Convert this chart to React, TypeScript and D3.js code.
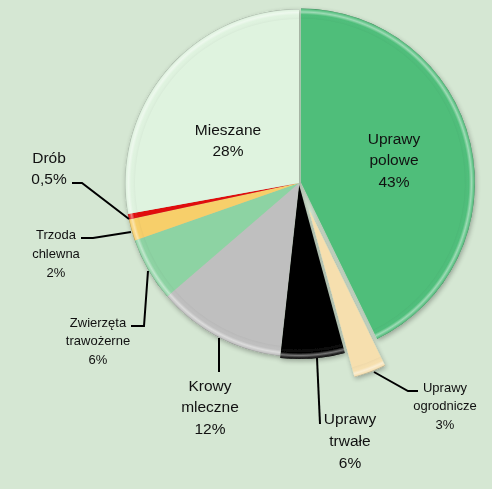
import React from 'react';
import { arc, pie, PieArcDatum } from 'd3';

const W = 492;
const H = 489;

const categories = [
    'Uprawy polowe',
    'Uprawy ogrodnicze',
    'Uprawy trwałe',
    'Krowy mleczne',
    'Zwierzęta trawożerne',
    'Trzoda chlewna',
    'Drób',
    'Mieszane',
];
const values = [43, 3, 6, 12, 6, 2, 0.5, 28];
const percentLabels = ['43%', '3%', '6%', '12%', '6%', '2%', '0,5%', '28%'];
const colors = ['#4fbe7a', '#f6dfae', '#050505', '#bfbfbf', '#8dd3a3', '#f7cf6a', '#e01010', '#dff3df'];

// how far each slice is pulled out of the pie (px)
const explode: Record<string, number> = {
    'Uprawy polowe': 2,
    'Uprawy ogrodnicze': 28,
    'Uprawy trwałe': 2,
};

type Lbl = { key: string; lines: string[]; x: number; y: number; size: number; lh: number };
const labels: Lbl[] = [
    { key: 'Mieszane', lines: ['Mieszane', '28%'], x: 228, y: 129, size: 15.5, lh: 21 },
    { key: 'Uprawy polowe', lines: ['Uprawy', 'polowe', '43%'], x: 394, y: 138, size: 15.5, lh: 21.5 },
    { key: 'Drób', lines: ['Drób', '0,5%'], x: 49, y: 157, size: 15.5, lh: 21 },
    { key: 'Trzoda chlewna', lines: ['Trzoda', 'chlewna', '2%'], x: 56, y: 234, size: 13, lh: 19 },
    { key: 'Zwierzęta trawożerne', lines: ['Zwierzęta', 'trawożerne', '6%'], x: 98, y: 322, size: 13, lh: 18.5 },
    { key: 'Krowy mleczne', lines: ['Krowy', 'mleczne', '12%'], x: 210, y: 385, size: 15.5, lh: 21.5 },
    { key: 'Uprawy trwałe', lines: ['Uprawy', 'trwałe', '6%'], x: 350, y: 418, size: 15.5, lh: 22 },
    { key: 'Uprawy ogrodnicze', lines: ['Uprawy', 'ogrodnicze', '3%'], x: 445, y: 387, size: 13, lh: 18.5 },
];

const leaders: [number, number][][] = [
    [[72, 183], [82, 183], [129, 219]],
    [[81, 238], [93, 238], [131, 232]],
    [[131, 326], [144, 326], [148, 271]],
    [[219, 338], [219, 372]],
    [[317, 358], [320, 424]],
    [[374, 372], [408, 391], [418, 391]],
];

const cx = 299;
const cy = 183;
const R = 174;

type Slice = { name: string; value: number; pct: string; color: string };
const data: Slice[] = categories.map((name, i) => ({
    name,
    value: values[i],
    pct: percentLabels[i],
    color: colors[i],
}));

export default function App() {
    const arcs = pie<Slice>().sort(null).value((d) => d.value)(data);
    const outer = arc<PieArcDatum<Slice>>().innerRadius(0).outerRadius(R);
    const band = arc<PieArcDatum<Slice>>().innerRadius(R - 10).outerRadius(R);

    return (
        <svg width={W} height={H} style={{ display: 'block', position: 'absolute', left: 0, top: 0 }}>
            <defs>
                <filter id="shadow" x="-20%" y="-20%" width="140%" height="140%">
                    <feGaussianBlur in="SourceAlpha" stdDeviation="2.5" />
                    <feOffset dx="1" dy="1.5" result="b" />
                    <feComponentTransfer>
                        <feFuncA type="linear" slope="0.3" />
                    </feComponentTransfer>
                    <feMerge>
                        <feMergeNode />
                        <feMergeNode in="SourceGraphic" />
                    </feMerge>
                </filter>
                <radialGradient id="rim" cx="0" cy="0" r={R} gradientUnits="userSpaceOnUse">
                    <stop offset="0.94" stopColor="#000000" stopOpacity="0.04" />
                    <stop offset="0.965" stopColor="#ffffff" stopOpacity="0" />
                    <stop offset="0.98" stopColor="#ffffff" stopOpacity="0.45" />
                    <stop offset="0.993" stopColor="#ffffff" stopOpacity="0.1" />
                    <stop offset="1" stopColor="#000000" stopOpacity="0.3" />
                </radialGradient>
            </defs>
            <rect width={W} height={H} fill="#d5e7d3" />
            <g filter="url(#shadow)">
                {arcs.map((a) => {
                    const off = explode[a.data.name] || 0;
                    const mid = (a.startAngle + a.endAngle) / 2;
                    const dx = Math.sin(mid) * off;
                    const dy = -Math.cos(mid) * off;
                    return (
                        <g key={a.data.name} transform={`translate(${cx + dx},${cy + dy})`}>
                            <path d={outer(a) || ''} fill={a.data.color} />
                            <path d={band(a) || ''} fill="url(#rim)" />
                        </g>
                    );
                })}
            </g>
            {leaders.map((pts, i) => (
                <polyline
                    key={i}
                    points={pts.map((p) => p.join(',')).join(' ')}
                    fill="none"
                    stroke="#000"
                    strokeWidth={2}
                />
            ))}
            {labels.map((l) => (
                <text
                    key={l.key}
                    x={l.x}
                    y={l.y}
                    textAnchor="middle"
                    fontFamily="'Liberation Sans', Arial, sans-serif"
                    fontSize={l.size}
                    fill="#111"
                >
                    {l.lines.map((ln, j) => (
                        <tspan key={j} x={l.x} y={l.y + j * l.lh} dominantBaseline="central">
                            {ln}
                        </tspan>
                    ))}
                </text>
            ))}
        </svg>
    );
}
